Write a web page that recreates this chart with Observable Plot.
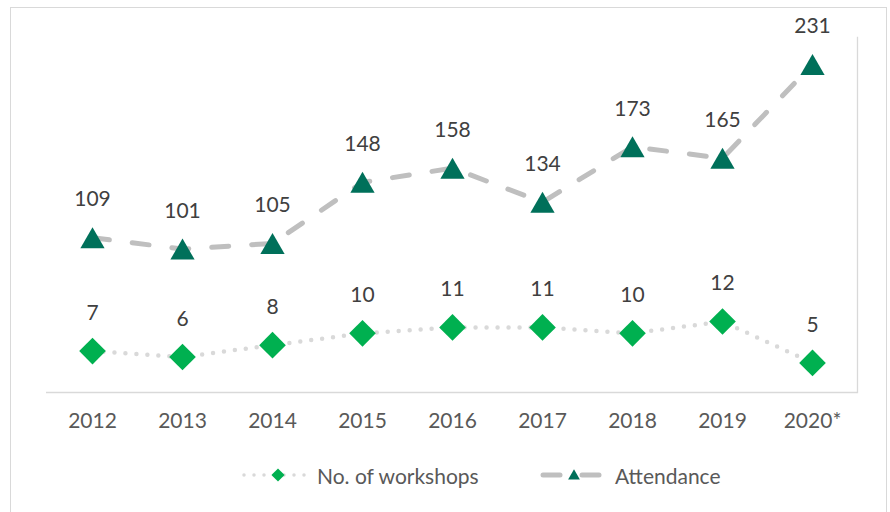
<!DOCTYPE html>
<html>
<head>
<meta charset="utf-8">
<script src="https://cdn.jsdelivr.net/npm/d3@7"></script>
<script src="https://cdn.jsdelivr.net/npm/@observablehq/plot@0.6"></script>
<style>
  body { margin: 0; background: #fff; font-family: Lato, "Open Sans", sans-serif; }
  #outer { position: absolute; left: 10px; top: 7px; width: 875px; height: 540px; border: 1px solid #d9d9d9; pointer-events: none; }
  #chart { position: absolute; left: 0; top: 0; }
  #legend { position: absolute; left: 0; top: 462px; width: 890px; height: 26px; font-size: 21px; color: #595959; }
  .item { position: absolute; top: 0; height: 26px; display: flex; align-items: center; }
  .item svg { display: block; }
</style>
</head>
<body>
<div id="chart"></div>
<div id="legend"></div>
<div id="outer"></div>
<script>
// ---- data ----
const years = ["2012", "2013", "2014", "2015", "2016", "2017", "2018", "2019", "2020*"];
const workshops = [7, 6, 8, 10, 11, 11, 10, 12, 5];
const attendance = [109, 101, 105, 148, 158, 134, 173, 165, 231];
const attendanceMax = 250;   // primary axis max
const workshopsMax = 60;     // secondary axis max
const seriesNames = ["No. of workshops", "Attendance"];

const rows = years.map((year, i) => ({year, workshops: workshops[i], attendance: attendance[i]}));
const wY = d => d.workshops * attendanceMax / workshopsMax;

const green = "#00b050";
const teal = "#00705a";

const chart = Plot.plot({
  width: 890,
  height: 450,
  marginLeft: 46,
  marginRight: 33,
  marginTop: 37,
  marginBottom: 58,
  style: {fontFamily: "Lato, 'Open Sans', sans-serif", fontSize: "21px", color: "#595959", background: "transparent"},
  x: {type: "band", domain: years, padding: 0, label: null, tickSize: 0, tickPadding: 21},
  y: {domain: [0, attendanceMax], axis: null},
  marks: [
    Plot.ruleY([0], {stroke: "#d9d9d9", strokeWidth: 1.3}),
    Plot.frame({anchor: "right", stroke: "#d9d9d9", strokeWidth: 1.3}),
    Plot.line(rows, {x: "year", y: wY, stroke: "#d9d9d9", strokeWidth: 4.5, strokeDasharray: "0 11", strokeLinecap: "round"}),
    Plot.line(rows, {x: "year", y: "attendance", stroke: "#bfbfbf", strokeWidth: 5, strokeDasharray: "17 23", strokeLinecap: "round"}),
    Plot.dot(rows, {x: "year", y: wY, symbol: "diamond2", r: 12, fill: green, stroke: "none"}),
    Plot.dot(rows, {x: "year", y: "attendance", symbol: "triangle", r: 9, fill: teal, stroke: "none", dy: 3.5}),
    Plot.text(rows, {x: "year", y: wY, text: d => String(d.workshops), dy: -38, fill: "#404040", fontSize: 21, lineAnchor: "middle"}),
    Plot.text(rows, {x: "year", y: "attendance", text: d => String(d.attendance), dy: -38, fill: "#404040", fontSize: 21, lineAnchor: "middle"})
  ]
});
document.getElementById("chart").appendChild(chart);

// ---- legend ----
const legend = d3.select("#legend");
const it1 = legend.append("div").attr("class", "item").style("left", "242px");
const s1 = it1.append("svg").attr("width", 66).attr("height", 26);
s1.append("line").attr("x1", 2).attr("x2", 64).attr("y1", 13).attr("y2", 13)
  .attr("stroke", "#d9d9d9").attr("stroke-width", 3.5).attr("stroke-dasharray", "0 10").attr("stroke-linecap", "round");
s1.append("path").attr("transform", "translate(36,13)").attr("d", d3.symbol(d3.symbolDiamond2, 110)()).attr("fill", green);
it1.append("span").style("margin-left", "9px").text(seriesNames[0]);

const it2 = legend.append("div").attr("class", "item").style("left", "540px");
const s2 = it2.append("svg").attr("width", 62).attr("height", 26);
s2.append("line").attr("x1", 3).attr("x2", 20).attr("y1", 13).attr("y2", 13)
  .attr("stroke", "#bfbfbf").attr("stroke-width", 5).attr("stroke-linecap", "round");
s2.append("line").attr("x1", 42).attr("x2", 59).attr("y1", 13).attr("y2", 13)
  .attr("stroke", "#bfbfbf").attr("stroke-width", 5).attr("stroke-linecap", "round");
s2.append("path").attr("transform", "translate(34,14)").attr("d", d3.symbol(d3.symbolTriangle, 60)()).attr("fill", teal);
it2.append("span").style("margin-left", "13px").text(seriesNames[1]);
</script>
</body>
</html>
